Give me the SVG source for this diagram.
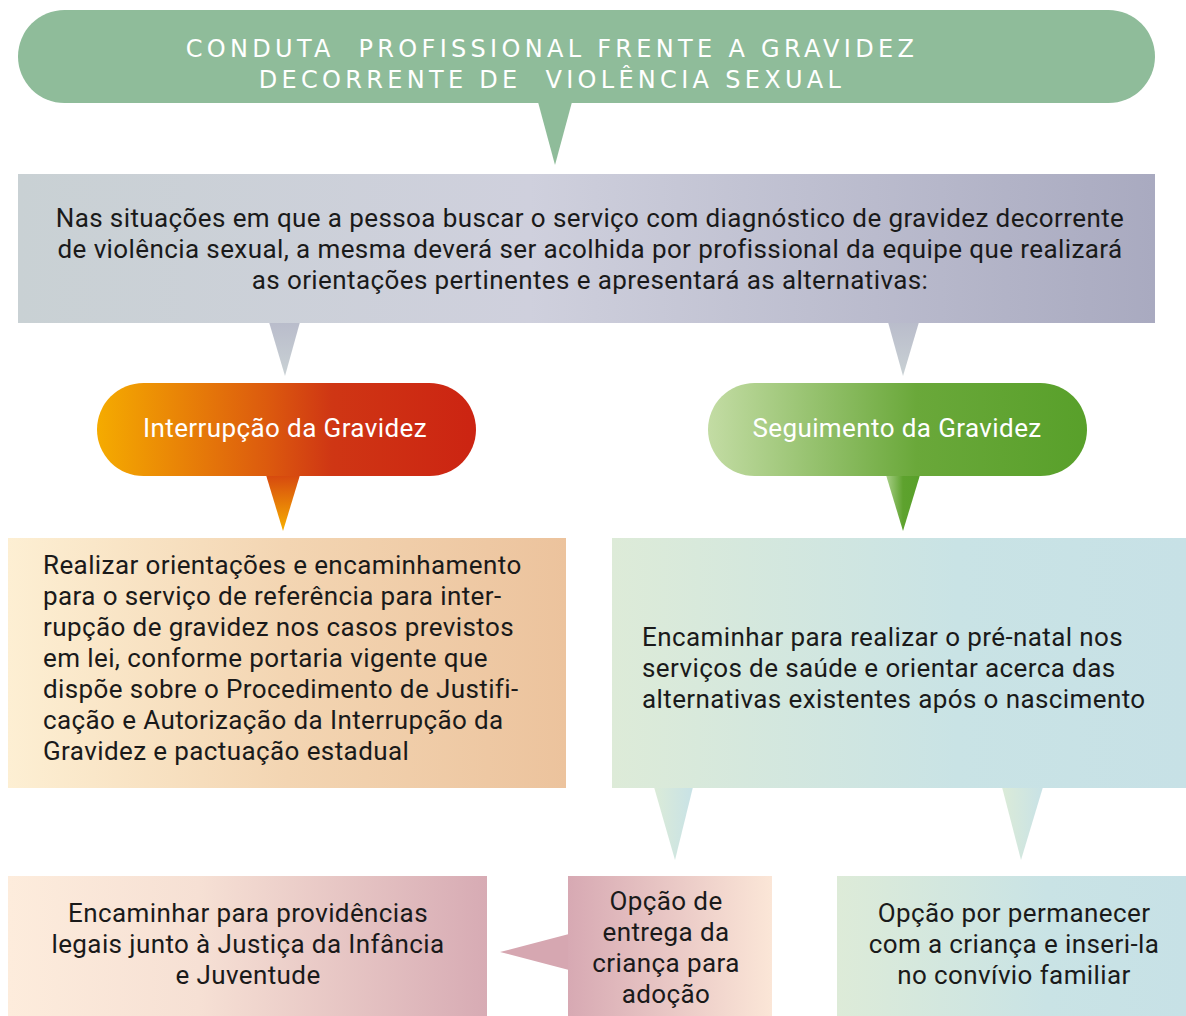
<svg xmlns="http://www.w3.org/2000/svg" width="1186" height="1016" viewBox="0 0 1186 1016">
<defs>
<linearGradient id="gGray" x1="0" y1="0" x2="1" y2="0">
<stop offset="0" stop-color="#c9d1d4"/><stop offset="0.45" stop-color="#cfd0dd"/><stop offset="1" stop-color="#a9aac0"/>
</linearGradient>
<linearGradient id="gGrayTail" x1="0" y1="0" x2="0" y2="1">
<stop offset="0" stop-color="#b9bccb"/><stop offset="1" stop-color="#c9d1d4"/>
</linearGradient>
<linearGradient id="gOrange" x1="0" y1="0" x2="1" y2="0">
<stop offset="0" stop-color="#f5ab00"/><stop offset="0.45" stop-color="#dc5a0e"/><stop offset="0.62" stop-color="#cf3614"/><stop offset="1" stop-color="#cc2412"/>
</linearGradient>
<linearGradient id="gOrangeTail" x1="0" y1="0" x2="0" y2="1">
<stop offset="0" stop-color="#d6480f"/><stop offset="1" stop-color="#f7b000"/>
</linearGradient>
<linearGradient id="gGreen" x1="0" y1="0" x2="1" y2="0">
<stop offset="0" stop-color="#c3dca4"/><stop offset="0.55" stop-color="#6aa83a"/><stop offset="1" stop-color="#58a02a"/>
</linearGradient>
<linearGradient id="gGreenTail" x1="0" y1="0" x2="1" y2="0">
<stop offset="0" stop-color="#a9cf88"/><stop offset="0.5" stop-color="#5ea22e"/><stop offset="1" stop-color="#58a02a"/>
</linearGradient>
<linearGradient id="gPeach" x1="0" y1="0" x2="1" y2="0">
<stop offset="0" stop-color="#fdefd3"/><stop offset="0.5" stop-color="#f3d5b2"/><stop offset="1" stop-color="#ecc39d"/>
</linearGradient>
<linearGradient id="gAqua" x1="0" y1="0" x2="1" y2="0">
<stop offset="0" stop-color="#ddebd8"/><stop offset="0.6" stop-color="#c9e3e5"/><stop offset="1" stop-color="#c7e1e6"/>
</linearGradient>
<linearGradient id="gAquaTail" x1="0" y1="0" x2="1" y2="0">
<stop offset="0" stop-color="#dbebd8"/><stop offset="1" stop-color="#c8e2e6"/>
</linearGradient>
<linearGradient id="gPink" x1="0" y1="0" x2="1" y2="0">
<stop offset="0" stop-color="#fdecdc"/><stop offset="0.4" stop-color="#f6e0d4"/><stop offset="1" stop-color="#d7abb4"/>
</linearGradient>
<linearGradient id="gPinkR" x1="0" y1="0" x2="1" y2="0">
<stop offset="0" stop-color="#d7a9b3"/><stop offset="1" stop-color="#fbe6d7"/>
</linearGradient>
</defs>
<style>
.hdr{font-family:"DejaVu Sans","Open Sans",sans-serif;font-size:24px;fill:#ffffff;letter-spacing:4.3px;text-anchor:middle}
.pill{font-family:"Roboto","Open Sans",sans-serif;font-size:26px;letter-spacing:0.4px;fill:#ffffff;text-anchor:middle}
.body{font-family:"Roboto","Open Sans",sans-serif;font-size:26px;letter-spacing:0.4px;fill:#1a1a1a}
.mid{text-anchor:middle}
</style>
<rect width="1186" height="1016" fill="#ffffff"/>

<g id="connectors">
<polygon points="538,102 572,102 555,165" fill="#8fbc9a"/>
<polygon points="269,322 300,322 285,376" fill="url(#gGrayTail)"/>
<polygon points="888,322 919,322 903,376" fill="url(#gGrayTail)"/>
<polygon points="266,475 300,475 283,531" fill="url(#gOrangeTail)"/>
<polygon points="886,475 920,475 903,531" fill="url(#gGreenTail)"/>
<polygon points="654,787 693,787 675,860" fill="url(#gAquaTail)"/>
<polygon points="1002,787 1043,787 1021,860" fill="url(#gAquaTail)"/>
<polygon points="569,934 569,970 500,952" fill="#d6a7b1"/>
</g>

<g id="title">
<rect x="18" y="10" width="1137" height="93" rx="46.5" fill="#8fbc9a"/>
<text class="hdr" xml:space="preserve"><tspan x="552" y="57">CONDUTA  PROFISSIONAL FRENTE A GRAVIDEZ</tspan><tspan x="552" y="88">DECORRENTE DE  VIOLÊNCIA SEXUAL</tspan></text>
</g>

<g id="intro">
<rect x="18" y="174" width="1137" height="149" fill="url(#gGray)"/>
<text class="body mid"><tspan x="590" y="227">Nas situações em que a pessoa buscar o serviço com diagnóstico de gravidez decorrente</tspan><tspan x="590" y="258">de violência sexual, a mesma deverá ser acolhida por profissional da equipe que realizará</tspan><tspan x="590" y="289">as orientações pertinentes e apresentará as alternativas:</tspan></text>
</g>

<g id="interrupcao">
<rect x="97" y="383" width="379" height="93" rx="46.5" fill="url(#gOrange)"/>
<text class="pill" x="285" y="437">Interrupção da Gravidez</text>
</g>

<g id="seguimento">
<rect x="708" y="383" width="379" height="93" rx="46.5" fill="url(#gGreen)"/>
<text class="pill" x="897" y="437">Seguimento da Gravidez</text>
</g>

<g id="orientacoes">
<rect x="8" y="538" width="558" height="250" fill="url(#gPeach)"/>
<text class="body"><tspan x="43" y="574">Realizar orientações e encaminhamento</tspan><tspan x="43" y="605">para o serviço de referência para inter-</tspan><tspan x="43" y="636">rupção de gravidez nos casos previstos</tspan><tspan x="43" y="667">em lei, conforme portaria vigente que</tspan><tspan x="43" y="698">dispõe sobre o Procedimento de Justifi-</tspan><tspan x="43" y="729">cação e Autorização da Interrupção da</tspan><tspan x="43" y="760">Gravidez e pactuação estadual</tspan></text>
</g>

<g id="prenatal">
<rect x="612" y="538" width="574" height="250" fill="url(#gAqua)"/>
<text class="body"><tspan x="642" y="646">Encaminhar para realizar o pré-natal nos</tspan><tspan x="642" y="677">serviços de saúde e orientar acerca das</tspan><tspan x="642" y="708">alternativas existentes após o nascimento</tspan></text>
</g>

<g id="justica">
<rect x="8" y="876" width="479" height="140" fill="url(#gPink)"/>
<text class="body mid"><tspan x="248" y="922">Encaminhar para providências</tspan><tspan x="248" y="953">legais junto à Justiça da Infância</tspan><tspan x="248" y="984">e Juventude</tspan></text>
</g>

<g id="adocao">
<rect x="568" y="876" width="204" height="140" fill="url(#gPinkR)"/>
<text class="body mid"><tspan x="666" y="910">Opção de</tspan><tspan x="666" y="941">entrega da</tspan><tspan x="666" y="972">criança para</tspan><tspan x="666" y="1003">adoção</tspan></text>
</g>

<g id="permanecer">
<rect x="837" y="876" width="349" height="140" fill="url(#gAqua)"/>
<text class="body mid"><tspan x="1014" y="922">Opção por permanecer</tspan><tspan x="1014" y="953">com a criança e inseri-la</tspan><tspan x="1014" y="984">no convívio familiar</tspan></text>
</g>
</svg>
